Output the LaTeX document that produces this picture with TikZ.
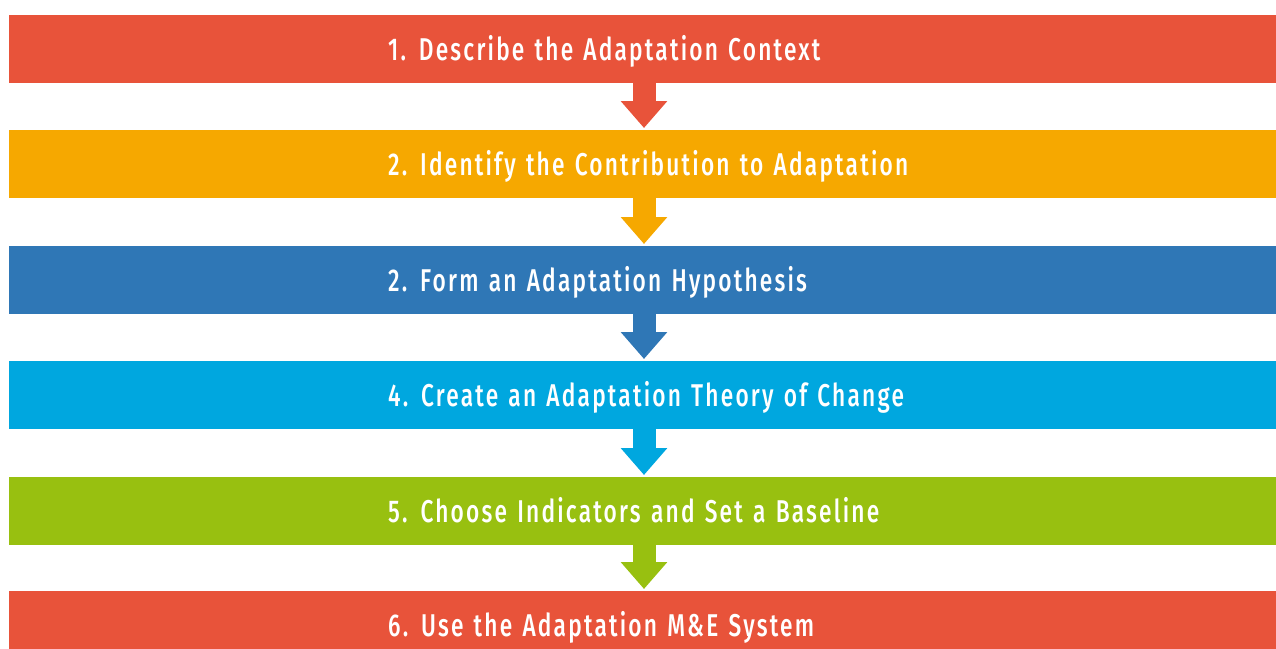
\documentclass[tikz,border=0pt]{standalone}
\usepackage{fontspec}
\newfontfamily\lblfont{Fira Sans}[FakeStretch=0.72, LetterSpace=7, WordSpace=1.3, UprightFont=* Medium]
\usetikzlibrary{arrows.meta,calc}
\definecolor{cred}{HTML}{E8533A}
\definecolor{corange}{HTML}{F6A800}
\definecolor{cblue}{HTML}{2F77B6}
\definecolor{ccyan}{HTML}{00A7DF}
\definecolor{cgreen}{HTML}{98C010}
\tikzset{
  bar/.style={fill=#1, draw=none, minimum width=1267pt, minimum height=68pt, inner sep=0pt, anchor=north west},
  lbl/.style={text=white, inner sep=0pt, anchor=base west, font=\lblfont\fontsize{31.5}{36}\selectfont},
  flow/.style={draw=#1, line width=23pt, -{Triangle[width=45pt,length=27pt]}, shorten >=2pt},
}
\begin{document}
\begin{tikzpicture}[x=1pt,y=-1pt]
\useasboundingbox (0,0) rectangle (1276,648);
\begin{scope}
\clip (0,0) rectangle (1276,648);
\node[bar=cred]    (b1) at (9,15)  {};
\node[bar=corange] (b2) at (9,130) {};
\node[bar=cblue]   (b3) at (9,246) {};
\node[bar=ccyan]   (b4) at (9,361) {};
\node[bar=cgreen]  (b5) at (9,477) {};
\node[bar=cred]    (b6) at (9,591) {};
\end{scope}
\coordinate (ax) at (644,0);
\draw[flow=cred]    (b1.south -| ax) -- (b2.north -| ax);
\draw[flow=corange] (b2.south -| ax) -- (b3.north -| ax);
\draw[flow=cblue]   (b3.south -| ax) -- (b4.north -| ax);
\draw[flow=ccyan]   (b4.south -| ax) -- (b5.north -| ax);
\draw[flow=cgreen]  (b5.south -| ax) -- (b6.north -| ax);
\node[lbl] (t1) at ($(b1.west)+(379,11)$) {1. Describe the Adaptation Context};
\node[lbl] (t2) at ($(b2.west)+(379,11)$) {2. Identify the Contribution to Adaptation};
\node[lbl] (t3) at ($(b3.west)+(379,11)$) {2. Form an Adaptation Hypothesis};
\node[lbl] (t4) at ($(b4.west)+(379,11)$) {4. Create an Adaptation Theory of Change};
\node[lbl] (t5) at ($(b5.west)+(379,11)$) {5. Choose Indicators and Set a Baseline};
\node[lbl] (t6) at ($(b6.west)+(379,11)$) {6. Use the Adaptation M\&E System};
\end{tikzpicture}
\end{document}
